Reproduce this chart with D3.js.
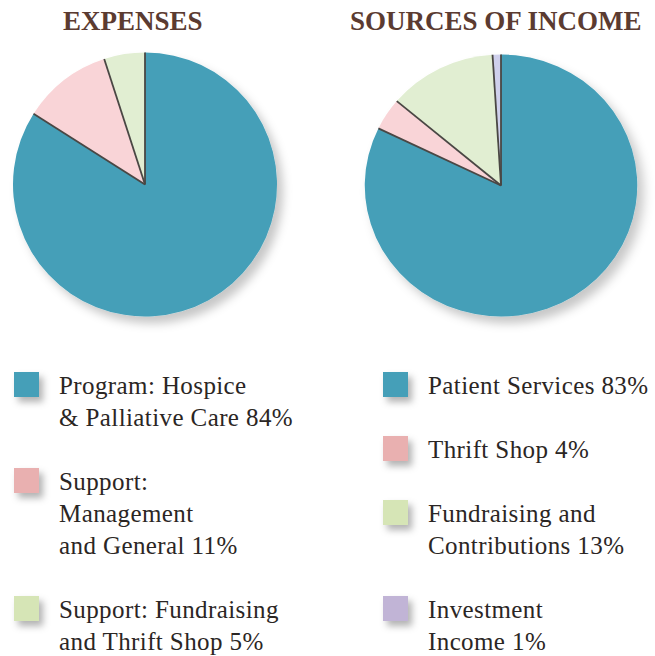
<!DOCTYPE html>
<html>
<head>
<meta charset="utf-8">
<script src="https://cdn.jsdelivr.net/npm/d3@7"></script>
<style>
  html, body { margin: 0; padding: 0; background: #fff; }
  svg { display: block; }
</style>
</head>
<body>
<div id="chart"></div>
<script>

// data
const expenseValues = [84, 11, 5];
const expenseLabels = [
    ["Program: Hospice", "& Palliative Care 84%"],
    ["Support:", "Management", "and General 11%"],
    ["Support: Fundraising", "and Thrift Shop 5%"],
];
const incomeValues = [83, 4, 13, 1];
const incomeLabels = [
    ["Patient Services 83%"],
    ["Thrift Shop 4%"],
    ["Fundraising and", "Contributions 13%"],
    ["Investment", "Income 1%"],
];

const sliceColors = ["#449fb8", "#f9d4d7", "#e1eed2", "#cfd0ec"];
const swatchColors = ["#449fb8", "#e9b0b0", "#d6e5b6", "#c1b4d6"];
const titleColor = "#5b3b31";
const textColor = "#2b2624";

const width = 655;
const height = 656;

const svg = d3.select("#chart")
    .append("svg")
    .attr("width", width)
    .attr("height", height);

const defs = svg.append("defs");
defs.append("filter")
    .attr("id", "pieShadow")
    .attr("x", "-20%").attr("y", "-20%")
    .attr("width", "150%").attr("height", "150%")
    .append("feDropShadow")
    .attr("dx", 6).attr("dy", 7)
    .attr("stdDeviation", 5)
    .attr("flood-color", "#000")
    .attr("flood-opacity", 0.22);
defs.append("filter")
    .attr("id", "boxShadow")
    .attr("x", "-50%").attr("y", "-50%")
    .attr("width", "220%").attr("height", "220%")
    .append("feDropShadow")
    .attr("dx", 4).attr("dy", 5)
    .attr("stdDeviation", 3.5)
    .attr("flood-color", "#000")
    .attr("flood-opacity", 0.3);

const pie = d3.pie().sort(null).value(d => d);

const drawPie = (values, cx, cy, r, sx) => {
    const arc = d3.arc().innerRadius(0).outerRadius(r);
    const g = svg.append("g")
        .attr("transform", `translate(${cx},${cy}) scale(${sx},1)`);
    const arcs = pie(values);

    const slices = g.append("g").attr("filter", "url(#pieShadow)");
    slices.selectAll("path")
        .data(arcs)
        .join("path")
        .attr("d", arc)
        .attr("fill", (d, i) => sliceColors[i]);

    // dark edges between slices
    g.selectAll("line")
        .data(arcs)
        .join("line")
        .attr("x1", 0).attr("y1", 0)
        .attr("x2", d => r * Math.sin(d.startAngle))
        .attr("y2", d => -r * Math.cos(d.startAngle))
        .attr("stroke", "#4a4744")
        .attr("stroke-width", 1.8)
        .attr("vector-effect", "non-scaling-stroke");
};

drawPie(expenseValues, 145, 184.5, 132, 1);
drawPie(incomeValues, 501, 185.5, 131, 1.04);

// titles
svg.append("text")
    .attr("x", 63).attr("y", 30)
    .attr("font-family", "'Liberation Serif', serif")
    .attr("font-weight", "bold")
    .attr("font-size", 27)
    .attr("fill", titleColor)
    .text("EXPENSES");
svg.append("text")
    .attr("x", 350).attr("y", 30)
    .attr("font-family", "'Liberation Serif', serif")
    .attr("font-weight", "bold")
    .attr("font-size", 27)
    .attr("fill", titleColor)
    .text("SOURCES OF INCOME");

// legends
const lineH = 32;
const drawLegend = (labels, boxX, textX) => {
    let base = 394;
    labels.forEach((lines, i) => {
        svg.append("rect")
            .attr("x", boxX).attr("y", base - 22)
            .attr("width", 25).attr("height", 25)
            .attr("fill", swatchColors[i])
            .attr("filter", "url(#boxShadow)");
        const t = svg.append("text")
            .attr("font-family", "'Liberation Serif', serif")
            .attr("font-size", 25)
            .attr("letter-spacing", 0.4)
            .attr("fill", textColor);
        t.selectAll("tspan")
            .data(lines)
            .join("tspan")
            .attr("x", textX)
            .attr("y", (d, j) => base + j * lineH)
            .text(d => d);
        base += (lines.length + 1) * lineH;
    });
};

drawLegend(expenseLabels, 14, 59);
drawLegend(incomeLabels, 383, 428);

</script>
</body>
</html>
